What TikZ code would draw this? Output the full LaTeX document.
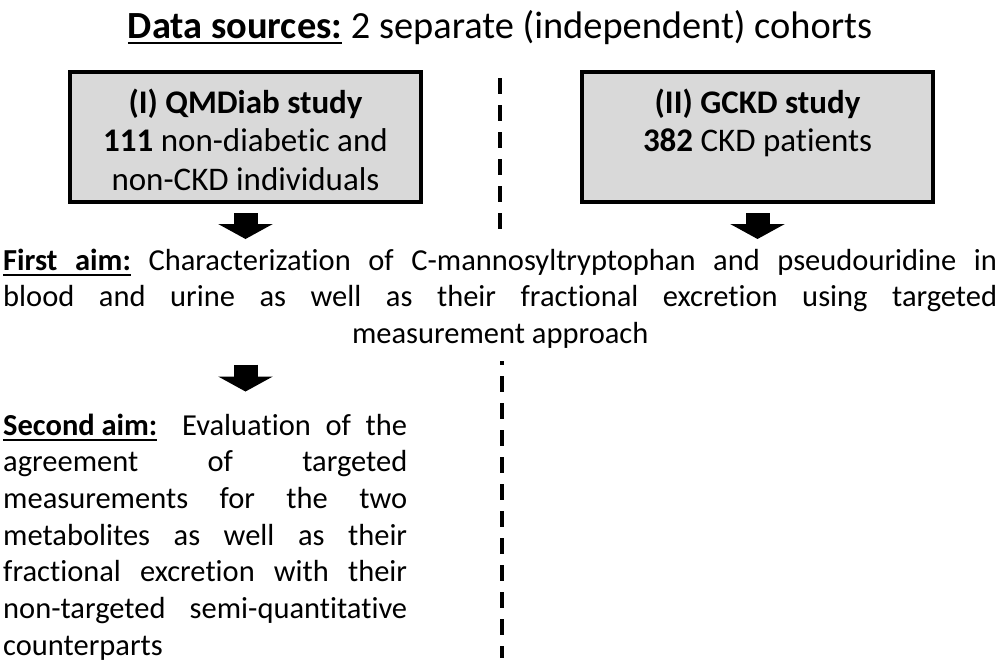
\documentclass[tikz,border=0pt]{standalone}
\usepackage{fontspec}
\setmainfont[Ligatures=NoCommon, Contextuals=NoAlternate]{Carlito}
\usetikzlibrary{positioning,arrows.meta}

\definecolor{boxgray}{RGB}{217,217,217}
\newcommand{\ulhead}[1]{\setbox0\hbox{\textbf{#1}}\rlap{\rule[-6pt]{\wd0}{2.5pt}}\box0{}}
\newcommand{\ulspace}{\leaders\vrule height -3.5pt depth 6pt\hskip\spaceskip}
\newcommand{\titlefont}{\fontsize{38.4}{46}\selectfont}
\newcommand{\boxfont}{\fontsize{33}{38.5}\selectfont}
\newcommand{\aimfont}{\fontsize{30.5}{36.7}\selectfont}
\newcommand{\cohorttext}[1]{\parbox[c][118pt][t]{339pt}{\vspace*{11pt}\centering #1}}
\newcommand{\justlines}{\parindent=0pt\tolerance=10000\hyphenpenalty=10000\exhyphenpenalty=10000%
    \spaceskip=0.226em plus 0.5em minus 0.05em\xspaceskip=\spaceskip}

\begin{document}
\begin{tikzpicture}[x=1pt, y=-1pt, node distance=157pt,
    cohort/.style={draw, line width=4pt, fill=boxgray, inner sep=6pt, font=\boxfont},
    aimtext/.style={inner sep=0pt, anchor=base west, font=\aimfont},
    bigarrow/.style={line width=24pt, -{Triangle[length=15pt, width=54pt]}},
    sepline/.style={line width=4.5pt, dash pattern=on 16pt off 11pt}]
    \useasboundingbox (0,0) rectangle (1000,665);
    % Title
    \node [font=\titlefont, anchor=base] (title) at (500,38)
        {\ulhead{Data sources:} 2 separate (independent) cohorts};
    % Cohorts
    \node [cohort] (qmd) at (245.5,137) {\cohorttext{\textbf{(I) QMDiab study}\\
        \textbf{111} non-diabetic and\\ non-CKD individuals}};
    \node [cohort, right=of qmd] (gckd) {\cohorttext{\textbf{(II) GCKD study}\\
        \textbf{382} CKD patients}};
    % Aims
    \node [aimtext, text width=994pt] (aim1) at (3,270) {\justlines
        \leftskip=0pt plus 1fil\rightskip=0pt plus -1fil\parfillskip=0pt plus 2fil
        \ulhead{First}\ulspace\ulhead{aim:} Characterization of C-mannosyltryptophan and pseudouridine in\linebreak
        blood and urine as well as their fractional excretion using targeted\linebreak
        measurement approach\par};
    \node [aimtext, text width=404pt] (aim2) at (3,435) {\justlines
        \leftskip=0pt\rightskip=0pt\parfillskip=0pt plus 1fil
        \ulhead{Second aim:}\hspace{10pt} Evaluation of the\linebreak
        agreement of targeted\linebreak
        measurements for the two\linebreak
        metabolites as well as their\linebreak
        fractional excretion with their\linebreak
        non-targeted semi-quantitative\linebreak
        counterparts\par};
    % Arrows
    \draw [bigarrow] ([yshift=-9pt]qmd.south) -- ++(0,26);
    \draw [bigarrow] ([yshift=-9pt]gckd.south) -- ++(0,26);
    \draw [bigarrow] ([yshift=-16pt]aim1.south -| qmd.south) -- ++(0,27);
    % Separator
    \draw [sepline] (500,78) -- (500,230);
    \draw [sepline, dash phase=12pt] (502,361) -- (502,658);
\end{tikzpicture}
\end{document}
